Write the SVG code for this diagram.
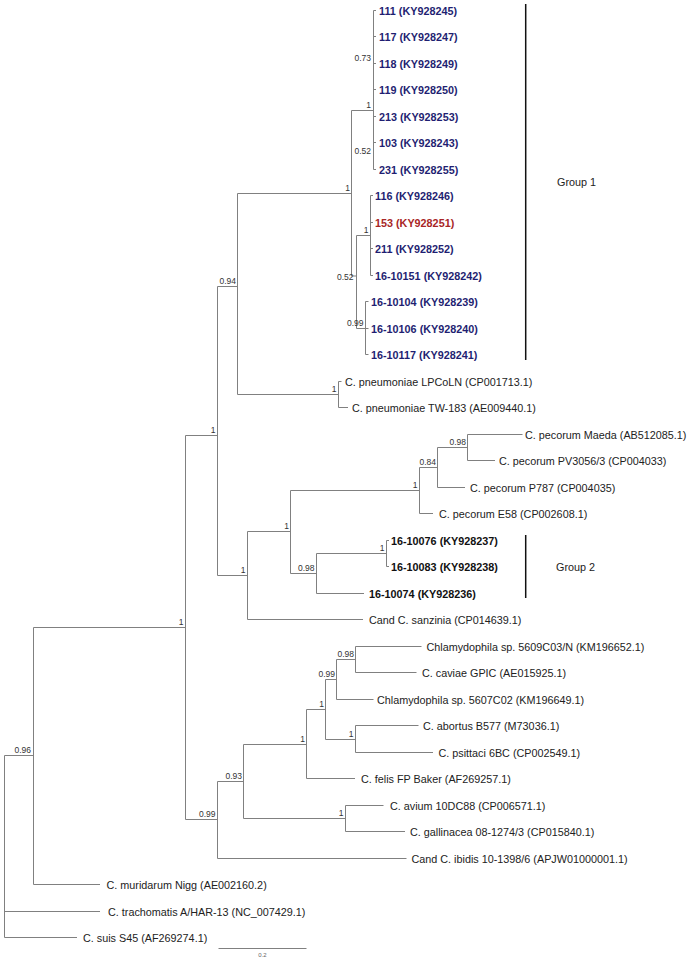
<svg xmlns="http://www.w3.org/2000/svg" width="689" height="959" viewBox="0 0 689 959">
<style>
text{font-family:"Liberation Sans",Arial,sans-serif}
.lf{font-size:10.8px;fill:#222}
.g1{font-size:10.8px;font-weight:bold;fill:#1f1f72}
.red{font-size:10.8px;font-weight:bold;fill:#a82626}
.g2{font-size:10.8px;font-weight:bold;fill:#111}
.bs{font-size:8.5px;fill:#333;text-anchor:end}
.grp{font-size:10.8px;fill:#222}
.br{stroke:#808080;stroke-width:1;fill:none}
.bar{stroke:#111;stroke-width:1.5;fill:none}
</style>
<rect width="689" height="959" fill="#fff"/>
<g id="connectors" class="br">
<path d="M373.5 10.5V116.5M373.5 142.5V169.5M373.5 63.5V156.5"/>
<path d="M373.5 10.5H376M373.5 36.5H376M373.5 63.5H376M373.5 89.5H376M373.5 116.5H376M373.5 142.5H376M373.5 169.5H376"/>
<path d="M351.5 110.5H373.5M351.5 110.5V276M351.5 276H356.5M356.5 235.5V328.5"/>
<path d="M356.5 235.5H370.5M370.5 195.5V275.5M370.5 195.5H373M370.5 222.5H373M370.5 248.5H373M370.5 275.5H373"/>
<path d="M356.5 328.5H365.5M365.5 301.5V354.5M365.5 301.5H368.5M365.5 328.5H368.5M365.5 354.5H368.5"/>
<path d="M237.5 193.5H351.5M237.5 193.5V394.5M237.5 394.5H338.5M338.5 381.5V407.5M338.5 381.5H341.5M338.5 407.5H348"/>
<path d="M217.5 286.5H237.5M217.5 286.5V575.5M185.5 435.5H217.5"/>
<path d="M217.5 575.5H247.5M247.5 531.5V619.5M247.5 619.5H363M247.5 531.5H290.5M290.5 490.5V573.5"/>
<path d="M290.5 490.5H419.5M419.5 467.5V513.5M419.5 513.5H433M419.5 467.5H437.5M437.5 447.5V487.5M437.5 487.5H465M437.5 447.5H467.5M467.5 434.5V460.5M467.5 434.5H522.5M467.5 460.5H495"/>
<path d="M290.5 573.5H316.5M316.5 553.5V593.5M316.5 593.5H364M316.5 553.5H386.5M386.5 540.5V566.5M386.5 540.5H389M386.5 566.5H389"/>
<path d="M185.5 435.5V819.5M33.5 627.5H185.5M185.5 819.5H217.5M217.5 781.5V858.5M217.5 858.5H406.5M217.5 781.5H243.5M243.5 744.5V818.5"/>
<path d="M243.5 818.5H345.5M345.5 805.5V831.5M345.5 805.5H383.5M345.5 831.5H405"/>
<path d="M243.5 744.5H306.5M306.5 709.5V778.5M306.5 778.5H355M306.5 709.5H325.5M325.5 679.5V739.5"/>
<path d="M325.5 739.5H355.5M355.5 725.5V752.5M355.5 725.5H418.5M355.5 752.5H433"/>
<path d="M325.5 679.5H336.5M336.5 659.5V699.5M336.5 699.5H373.5M336.5 659.5H355.5M355.5 646.5V672.5M355.5 646.5H421.5M355.5 672.5H416.5"/>
<path d="M33.5 627.5V884.5M33.5 884.5H100M4.5 755.5H33.5M4.5 755.5V937.5M4.5 911.5H100M4.5 937.5H77"/>
</g>
<g id="leaves">
<g id="n111"><text class="g1" x="379" y="14.5">111 (KY928245)</text></g>
<g id="n117"><text class="g1" x="379" y="40.5">117 (KY928247)</text></g>
<g id="n118"><text class="g1" x="379" y="67.5">118 (KY928249)</text></g>
<g id="n119"><text class="g1" x="379" y="93.5">119 (KY928250)</text></g>
<g id="n213"><text class="g1" x="379" y="120.5">213 (KY928253)</text></g>
<g id="n103"><text class="g1" x="379" y="146.5">103 (KY928243)</text></g>
<g id="n231"><text class="g1" x="379" y="173.5">231 (KY928255)</text></g>
<g id="n116"><text class="g1" x="375" y="199.5">116 (KY928246)</text></g>
<g id="n153"><text class="red" x="375" y="226.5">153 (KY928251)</text></g>
<g id="n211"><text class="g1" x="375" y="252.5">211 (KY928252)</text></g>
<g id="n10151"><text class="g1" x="375" y="279.5">16-10151 (KY928242)</text></g>
<g id="n10104"><text class="g1" x="371" y="305.5">16-10104 (KY928239)</text></g>
<g id="n10106"><text class="g1" x="371" y="332.5">16-10106 (KY928240)</text></g>
<g id="n10117"><text class="g1" x="371" y="358.5">16-10117 (KY928241)</text></g>
<g id="lpcoln"><text class="lf" x="345" y="385.5">C. pneumoniae LPCoLN (CP001713.1)</text></g>
<g id="tw183"><text class="lf" x="352" y="411.5">C. pneumoniae TW-183 (AE009440.1)</text></g>
<g id="maeda"><text class="lf" x="525" y="438.5">C. pecorum Maeda (AB512085.1)</text></g>
<g id="pv3056"><text class="lf" x="499" y="464.5">C. pecorum PV3056/3 (CP004033)</text></g>
<g id="p787"><text class="lf" x="470" y="491.5">C. pecorum P787 (CP004035)</text></g>
<g id="e58"><text class="lf" x="439" y="517.5">C. pecorum E58 (CP002608.1)</text></g>
<g id="n10076"><text class="g2" x="391" y="544.5">16-10076 (KY928237)</text></g>
<g id="n10083"><text class="g2" x="391" y="570.5">16-10083 (KY928238)</text></g>
<g id="n10074"><text class="g2" x="369" y="597.5">16-10074 (KY928236)</text></g>
<g id="sanzinia"><text class="lf" x="369" y="623.5">Cand C. sanzinia (CP014639.1)</text></g>
<g id="c5609"><text class="lf" x="426.5" y="650.5">Chlamydophila sp. 5609C03/N (KM196652.1)</text></g>
<g id="caviae"><text class="lf" x="422" y="676.5">C. caviae GPIC (AE015925.1)</text></g>
<g id="c5607"><text class="lf" x="377" y="703.5">Chlamydophila sp. 5607C02 (KM196649.1)</text></g>
<g id="abortus"><text class="lf" x="423" y="729.5">C. abortus B577 (M73036.1)</text></g>
<g id="psittaci"><text class="lf" x="438.5" y="756.5">C. psittaci 6BC (CP002549.1)</text></g>
<g id="felis"><text class="lf" x="361" y="782.5">C. felis FP Baker (AF269257.1)</text></g>
<g id="avium"><text class="lf" x="390" y="809.5">C. avium 10DC88 (CP006571.1)</text></g>
<g id="gallinacea"><text class="lf" x="410" y="835.5">C. gallinacea 08-1274/3 (CP015840.1)</text></g>
<g id="ibidis"><text class="lf" x="411.5" y="862.5">Cand C. ibidis 10-1398/6 (APJW01000001.1)</text></g>
<g id="muridarum"><text class="lf" x="106.5" y="888.5">C. muridarum Nigg (AE002160.2)</text></g>
<g id="trachomatis"><text class="lf" x="108" y="915.5">C. trachomatis A/HAR-13 (NC_007429.1)</text></g>
<g id="suis"><text class="lf" x="83" y="941.5">C. suis S45 (AF269274.1)</text></g>
</g>
<g id="support">
<g id="nQ"><text class="bs" x="371" y="61">0.73</text></g>
<g id="nP1"><text class="bs" x="371" y="108">1</text></g>
<g id="nR"><text class="bs" x="371" y="154">0.52</text></g>
<g id="nS"><text class="bs" x="350" y="191">1</text></g>
<g id="nU"><text class="bs" x="368.5" y="233">1</text></g>
<g id="nT"><text class="bs" x="353.5" y="280">0.52</text></g>
<g id="nV"><text class="bs" x="363.5" y="326">0.99</text></g>
<g id="nE"><text class="bs" x="236" y="283.5">0.94</text></g>
<g id="nPn"><text class="bs" x="336.5" y="392">1</text></g>
<g id="nC"><text class="bs" x="215.5" y="433">1</text></g>
<g id="nAA"><text class="bs" x="466" y="445">0.98</text></g>
<g id="n084"><text class="bs" x="436" y="465">0.84</text></g>
<g id="nZ"><text class="bs" x="417.5" y="488">1</text></g>
<g id="nW"><text class="bs" x="289" y="529">1</text></g>
<g id="nY"><text class="bs" x="384.5" y="551">1</text></g>
<g id="nX"><text class="bs" x="314.5" y="571">0.98</text></g>
<g id="nF"><text class="bs" x="245.5" y="573">1</text></g>
<g id="nB"><text class="bs" x="183.5" y="625">1</text></g>
<g id="nK"><text class="bs" x="354" y="657">0.98</text></g>
<g id="nI"><text class="bs" x="335" y="677">0.99</text></g>
<g id="nH"><text class="bs" x="324" y="707">1</text></g>
<g id="nJ"><text class="bs" x="353.5" y="737">1</text></g>
<g id="nG"><text class="bs" x="305" y="742">1</text></g>
<g id="nM"><text class="bs" x="242" y="779">0.93</text></g>
<g id="nL"><text class="bs" x="343.5" y="816">1</text></g>
<g id="nD"><text class="bs" x="215.5" y="817">0.99</text></g>
<g id="nA"><text class="bs" x="31" y="753">0.96</text></g>
</g>
<g id="group1">
<path class="bar" d="M525.7 4V360"/>
<text class="grp" x="557" y="186">Group 1</text>
</g>
<g id="group2">
<path class="bar" d="M525.7 535V598"/>
<text class="grp" x="556" y="571">Group 2</text>
</g>
<g id="scalebar">
<path class="br" d="M218.5 948.5H306.5"/>
<text x="262.5" y="956.5" font-size="6" fill="#666" text-anchor="middle">0.2</text>
</g>
</svg>
